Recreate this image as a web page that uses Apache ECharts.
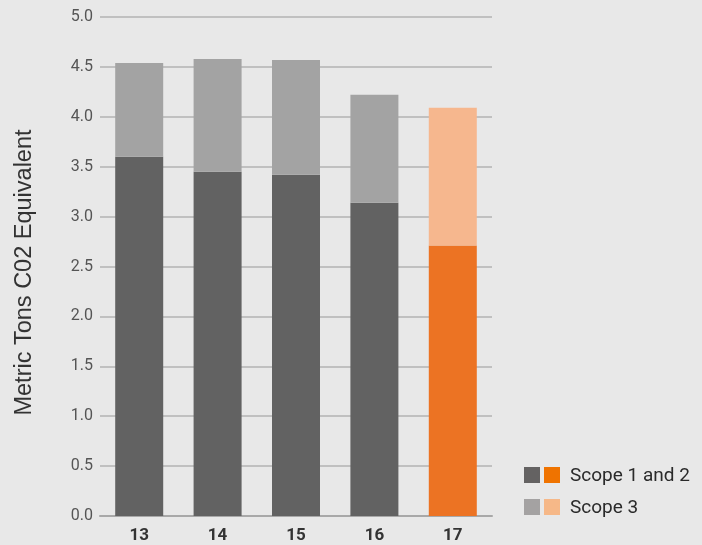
<!DOCTYPE html>
<html><head><meta charset="utf-8">
<script src="https://cdn.jsdelivr.net/npm/echarts@6/dist/echarts.min.js"></script>
<style>html,body{margin:0;padding:0;background:#e8e8e8;}#c{width:702px;height:545px;}</style>
</head><body><div id="c"></div>
<script>
const categories = ['13','14','15','16','17'];
const scope12 = [3.60, 3.45, 3.42, 3.14, 2.71];
const scope3 = [0.94, 1.13, 1.15, 1.08, 1.38];
const yTicks = [0, 0.5, 1.0, 1.5, 2.0, 2.5, 3.0, 3.5, 4.0, 4.5, 5.0];
const legendNames = ['Scope 1 and 2', 'Scope 3'];

const grey12 = '#626262', grey3 = '#a3a3a3', orange12 = '#ec7323', orange3 = '#f6b78e';
const hi = categories.length - 1;

const chart = echarts.init(document.getElementById('c'));
chart.setOption({
  backgroundColor: '#e8e8e8',
  animation: false,
  textStyle: { fontFamily: 'Roboto' },
  grid: { left: 100, right: 210, top: 17, bottom: 29 },
  xAxis: {
    type: 'category', data: categories,
    axisLine: { lineStyle: { color: '#a8a8a8', width: 2 } },
    axisTick: { show: false },
    axisLabel: { color: '#333', fontSize: 17, fontWeight: 'bold', margin: 11 }
  },
  yAxis: {
    type: 'value', min: 0, max: 5, interval: 0.5,
    name: 'Metric Tons C02 Equivalent', nameLocation: 'middle', nameGap: 63,
    nameTextStyle: { color: '#333', fontSize: 23.5, fontFamily: 'Liberation Sans', padding: [0, 12, 0, 0] },
    axisLine: { show: false }, axisTick: { show: false },
    axisLabel: { color: '#555', fontSize: 16, margin: 7,
      formatter: v => yTicks.includes(v) ? v.toFixed(1) : '' },
    splitLine: { lineStyle: { color: '#b3b3b3', width: 1.5 } }
  },
  series: [
    { name: legendNames[0], type: 'bar', stack: 't', barWidth: 48,
      data: scope12.map((v, i) => ({ value: v, itemStyle: { color: i === hi ? orange12 : grey12 } })) },
    { name: legendNames[1], type: 'bar', stack: 't', barWidth: 48,
      data: scope3.map((v, i) => ({ value: v, itemStyle: { color: i === hi ? orange3 : grey3 } })) }
  ],
  graphic: [
    { type: 'rect', left: 524, top: 467, shape: { width: 16, height: 16 }, style: { fill: '#646262' } },
    { type: 'rect', left: 544, top: 467, shape: { width: 16, height: 16 }, style: { fill: '#ef7300' } },
    { type: 'text', left: 570, top: 467, style: { text: legendNames[0], fill: '#2a2a2a', font: '19px Roboto' } },
    { type: 'rect', left: 524, top: 499, shape: { width: 16, height: 16 }, style: { fill: '#a4a2a2' } },
    { type: 'rect', left: 544, top: 499, shape: { width: 16, height: 16 }, style: { fill: '#f6b888' } },
    { type: 'text', left: 570, top: 499, style: { text: legendNames[1], fill: '#2a2a2a', font: '19px Roboto' } }
  ]
});
</script></body></html>
